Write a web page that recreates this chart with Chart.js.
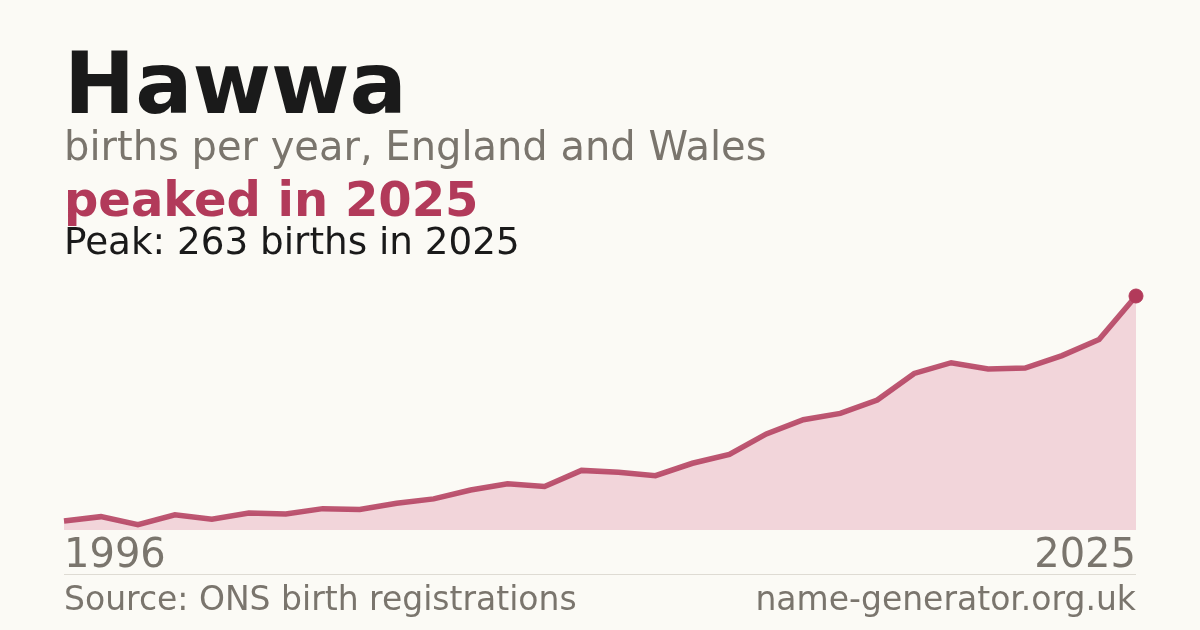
<!DOCTYPE html>
<html>
<head>
<meta charset="utf-8">
<script src="https://cdn.jsdelivr.net/npm/chart.js@4/dist/chart.umd.min.js"></script>
<style>
  html, body { margin: 0; padding: 0; background: #fbfaf5; }
  body { width: 1200px; height: 630px; position: relative; overflow: hidden; font-family: "DejaVu Sans", sans-serif; }
  #chart-wrap { position: absolute; left: 0; top: 0; width: 1200px; height: 630px; }
  .txt { position: absolute; left: 64px; white-space: nowrap; line-height: 1; }
  #title { top: 41px; font-size: 85px; font-weight: bold; color: #1a1a1a; }
  #subtitle { top: 126px; font-size: 40px; color: #7a756d; }
  #headline { top: 175px; font-size: 48px; font-weight: bold; color: #b23a5a; }
  #peak { top: 223px; font-size: 37.3px; color: #1a1a1a; }
  #rule { position: absolute; left: 64px; width: 1072px; top: 574px; height: 1px; background: #dedbd3; }
  .foot { position: absolute; top: 582px; font-size: 33px; color: #7a756d; line-height: 1; white-space: nowrap; }
  #source { left: 64px; }
  #site { right: 64px; }
</style>
</head>
<body>
<div id="chart-wrap"><canvas id="chart" width="1200" height="630"></canvas></div>
<div class="txt" id="title">Hawwa</div>
<div class="txt" id="subtitle">births per year, England and Wales</div>
<div class="txt" id="headline">peaked in 2025</div>
<div class="txt" id="peak">Peak: 263 births in 2025</div>
<div id="rule"></div>
<div class="foot" id="source">Source: ONS birth registrations</div>
<div class="foot" id="site">name-generator.org.uk</div>
<script>
(function () {
  'use strict';

  // Years 1996–2025 and births per year
  var years = [1996, 1997, 1998, 1999, 2000, 2001, 2002, 2003, 2004, 2005,
               2006, 2007, 2008, 2009, 2010, 2011, 2012, 2013, 2014, 2015,
               2016, 2017, 2018, 2019, 2020, 2021, 2022, 2023, 2024, 2025];
  var births = [10, 15, 6, 17, 12, 19, 18, 24, 23, 30,
                35, 45, 52, 49, 67, 65, 61, 75, 85, 108,
                124, 131, 146, 176, 188, 181, 182, 196, 214, 263];
  var yMin = 0;
  var yMax = 263;

  var crimson = '#b23a5a';
  var lastIdx = births.length - 1;

  var ctx = document.getElementById('chart').getContext('2d');
  new Chart(ctx, {
    type: 'line',
    data: {
      labels: years.map(String),
      datasets: [{
        data: births,
        borderColor: 'rgba(178, 58, 90, 0.85)',
        backgroundColor: '#f2d5da',
        borderWidth: 5.5,
        fill: 'origin',
        tension: 0,
        clip: false,
        pointRadius: births.map(function (v, i) { return i === lastIdx ? 7 : 0; }),
        pointHoverRadius: 0,
        pointBackgroundColor: crimson,
        pointBorderColor: crimson,
        pointBorderWidth: 1,
      }],
    },
    options: {
      responsive: false,
      animation: false,
      events: [],
      layout: { padding: { left: 64, right: 64, top: 296, bottom: 48 } },
      plugins: {
        legend: { display: false },
        tooltip: { enabled: false },
      },
      scales: {
        x: {
          offset: false,
          grid: { display: false, drawTicks: false },
          border: { display: false },
          afterFit: function (scale) { scale.height = 52; },
          ticks: {
            autoSkip: false,
            maxRotation: 0,
            align: 'inner',
            padding: 3,
            color: '#7a756d',
            font: { family: 'DejaVu Sans', size: 40 },
            callback: function (val, idx) {
              return (idx === 0 || idx === lastIdx) ? years[idx] : '';
            },
          },
        },
        y: {
          display: false,
          min: yMin,
          max: yMax,
        },
      },
    },
  });
})();
</script>
</body>
</html>
